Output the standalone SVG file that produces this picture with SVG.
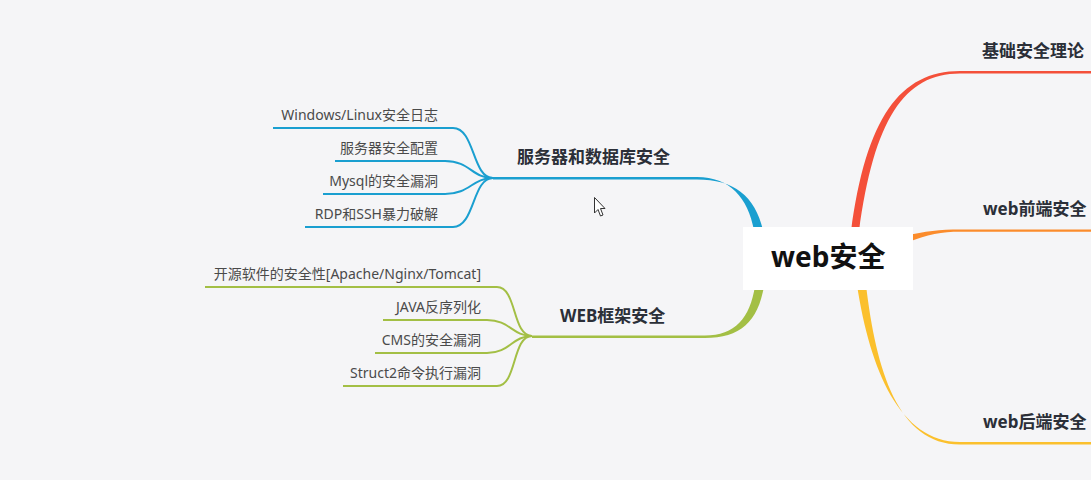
<svg xmlns="http://www.w3.org/2000/svg" width="1091" height="480" viewBox="0 0 1091 480">
<style>
text{font-family:"Noto Sans","Noto Sans CJK SC",sans-serif}
.leaf{font-size:14px;fill:#4a4a4a;text-anchor:end}
.main{font-size:17px;font-weight:bold;fill:#2b2f38}
.root{font-size:28px;font-weight:bold;fill:#111}
.bl{fill:none;stroke:#1a9fd0;stroke-width:2}
.gr{fill:none;stroke:#a3bf45;stroke-width:2}
</style>
<rect width="1091" height="480" fill="#f5f5f7"/>
<g id="connectors">
<path d="M851,232 C866,118 900,71 960,71 L1091,71 L1091,73.5 L960,73.5 C904,73.5 874,120 859,232 Z" fill="#f4503a"/>
<path d="M905,236 C925,231 940,229.5 960,229.5 L1091,229.5 L1091,231.8 L960,231.8 C942,231.8 928,234 906,243 Z" fill="#fb8c2c"/>
<path d="M857,285 C870,370 900,442 960,442 L1091,442 L1091,444.5 L960,444.5 C898,444.5 876,370 866,285 Z" fill="#fbc02d"/>
<path d="M493,177 L697,177 C730,177 748,198 754,230 L763,230 C755,196 734,179.5 697,179.5 L493,179.5 Z" fill="#1a9fd0"/>
<path d="M532,335.5 L705,335.5 C735,335.5 750,318 755,286 L764,286 C758,322 740,338 705,338 L532,338 Z" fill="#a3bf45"/>
<path class="bl" d="M273,128 L453,128 C475,128 472,178 493,178"/>
<path class="bl" d="M335,161 L445,161 C470,161 472,178 493,178"/>
<path class="bl" d="M323,194 L445,194 C470,194 472,178 493,178"/>
<path class="bl" d="M305,227 L453,227 C475,227 472,178 493,178"/>
<path class="gr" d="M205,287 L497,287 C517,287 512,336 532,336"/>
<path class="gr" d="M383,320 L487,320 C510,320 512,336 532,336"/>
<path class="gr" d="M375,353 L487,353 C510,353 512,336 532,336"/>
<path class="gr" d="M343,386 L497,386 C517,386 512,336 532,336"/>
</g>
<g id="root">
<rect x="743" y="227" width="170" height="63" fill="#ffffff"/>
<text class="root" x="771" y="267">web安全</text>
</g>
<g id="n-basic"><text class="main" x="982" y="57">基础安全理论</text></g>
<g id="n-front"><text class="main" x="983" y="215">web前端安全</text></g>
<g id="n-back"><text class="main" x="983" y="428">web后端安全</text></g>
<g id="n-server"><text class="main" x="517" y="163">服务器和数据库安全</text></g>
<g id="n-web"><text class="main" x="560" y="322">WEB框架安全</text></g>
<g id="s1"><text class="leaf" x="438" y="120">Windows/Linux安全日志</text></g>
<g id="s2"><text class="leaf" x="438" y="153">服务器安全配置</text></g>
<g id="s3"><text class="leaf" x="438" y="186">Mysql的安全漏洞</text></g>
<g id="s4"><text class="leaf" x="438" y="219">RDP和SSH暴力破解</text></g>
<g id="w1"><text class="leaf" x="481" y="279">开源软件的安全性[Apache/Nginx/Tomcat]</text></g>
<g id="w2"><text class="leaf" x="481" y="312">JAVA反序列化</text></g>
<g id="w3"><text class="leaf" x="481" y="345">CMS的安全漏洞</text></g>
<g id="w4"><text class="leaf" x="481" y="378">Struct2命令执行漏洞</text></g>
<path d="M594.5,197.5 L594.5,213 L598,209.5 L600.5,216 L603,215 L600.5,208.5 L605,208.5 Z" fill="#fff" stroke="#333" stroke-width="1"/>
</svg>
